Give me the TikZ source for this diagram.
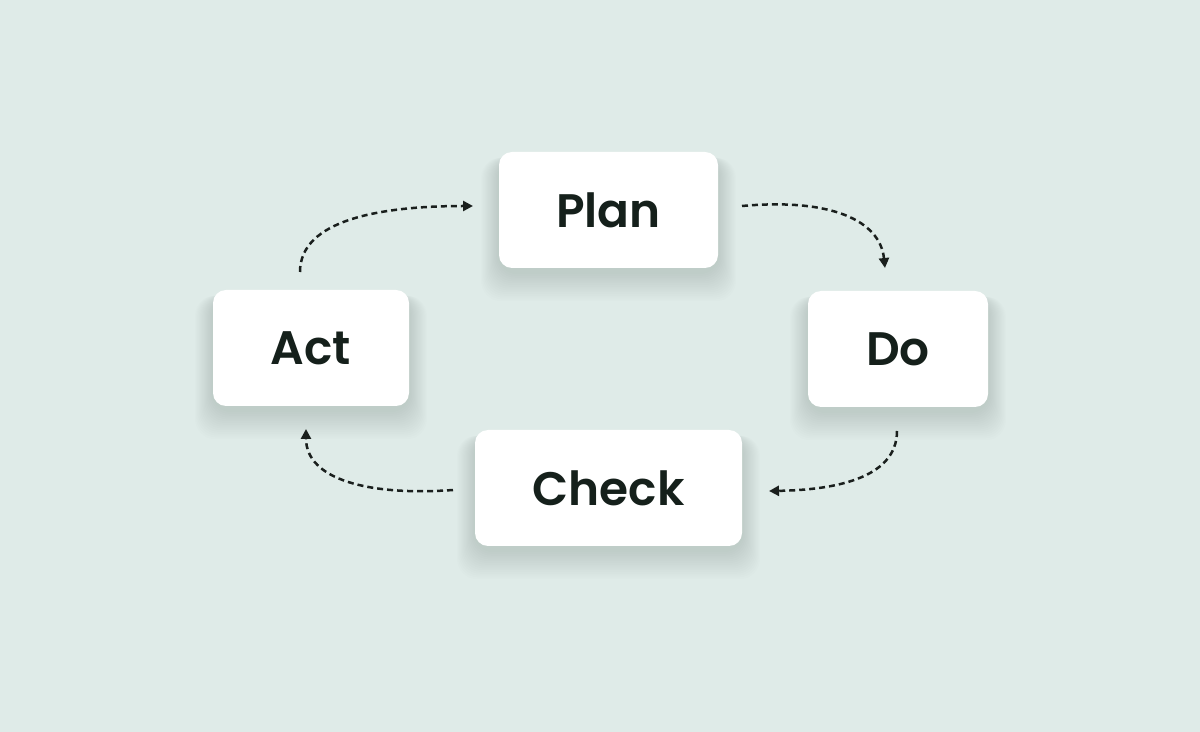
\documentclass[tikz,border=0pt]{standalone}
\usepackage{fontspec}
\setmainfont{Poppins}[BoldFont={Poppins SemiBold}]
\usetikzlibrary{arrows.meta,backgrounds}
\definecolor{bgc}{HTML}{DFEBE8}
\definecolor{txt}{HTML}{15201B}
\definecolor{arr}{HTML}{1A1F1D}
\definecolor{shd}{HTML}{2F5048}
\tikzset{
  box/.style={draw=none,fill=white,rounded corners=6.5pt,inner sep=0pt,
    font=\fontsize{23.5}{28}\selectfont\bfseries,text=txt},
  flow/.style={draw=arr,line width=1.25pt,dash pattern=on 3pt off 2pt,
    -{Triangle[length=5pt,width=5pt]}}
}
\newcommand{\softshadow}[1]{%
  \foreach \i in {1,...,16}{%
    \fill[shd,opacity=0.007,rounded corners=10pt]
      ([shift={(-\i*1.1,6)}]#1.north west) rectangle
      ([shift={(\i*1.1,\i*1.8+4)}]#1.south east);
  }%
}
\begin{document}
\begin{tikzpicture}[x=0.5pt,y=-0.5pt]
\useasboundingbox (0,0) rectangle (1200,732);
\node[box,minimum width=109.5pt,minimum height=58pt] (plan) at (608.5,210) {Plan};
\node[box,minimum width=98pt,minimum height=58pt] (act) at (311,348) {Act};
\node[box,minimum width=90pt,minimum height=58pt] (do) at (898,349) {Do};
\node[box,minimum width=133.5pt,minimum height=58pt] (check) at (608.5,488) {Check};
\begin{scope}[on background layer]
\fill[bgc] (0,0) rectangle (1200,732);
\softshadow{plan}
\softshadow{act}
\softshadow{do}
\softshadow{check}
\end{scope}
\coordinate (a1s) at (742,206);
\coordinate (a1e) at (885,268);
\coordinate (a2s) at (897,431);
\coordinate (a2e) at (769,491);
\coordinate (a3s) at (453,490);
\coordinate (a3e) at (306,429);
\coordinate (a4s) at (300,272);
\coordinate (a4e) at (473,206);
\draw[flow] (a1s) .. controls (830,198) and (880,220) .. (a1e);
\draw[flow] (a2s) .. controls (897,480) and (830,490) .. (a2e);
\draw[flow] (a3s) .. controls (370,496) and (306,480) .. (a3e);
\draw[flow] (a4s) .. controls (300,220) and (380,206) .. (a4e);
\end{tikzpicture}
\end{document}
